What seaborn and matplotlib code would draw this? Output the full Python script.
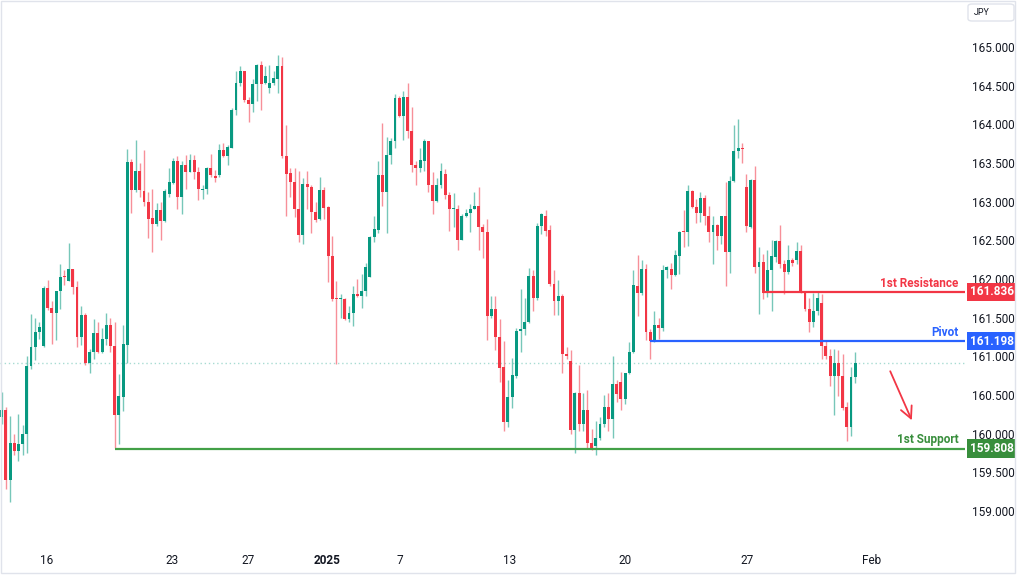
import numpy as np
import pandas as pd
import seaborn as sns
import matplotlib.pyplot as plt
from matplotlib.patches import Rectangle, FancyBboxPatch

# USD/JPY 4h candles
opens = [160.22, 160.31, 159.40, 159.88, 159.78, 159.87, 160.00, 160.88, 161.12, 161.31,
         161.14, 161.89, 161.63, 161.56, 161.84, 162.04, 161.98, 162.13, 161.90, 161.25,
         161.54, 160.92, 161.05, 161.30, 161.05, 161.23, 161.41, 161.13, 160.24, 160.47,
         161.15, 163.51, 163.15, 163.40, 163.14, 162.99, 162.79, 162.71, 162.89, 162.75,
         163.10, 163.24, 163.52, 163.06, 163.47, 163.38, 163.54, 163.38, 163.15, 163.17,
         163.44, 163.33, 163.34, 163.67, 163.59, 163.70, 164.18, 164.53, 164.69, 164.31,
         164.26, 164.52, 164.77, 164.53, 164.47, 164.54, 164.59, 164.75, 163.59, 163.37,
         163.26, 162.91, 162.57, 163.23, 163.19, 162.87, 162.77, 163.15, 162.93, 162.30,
         161.75, 161.74, 161.74, 161.48, 161.56, 161.81, 161.78, 161.85, 162.03, 162.54,
         162.64, 163.34, 163.13, 163.60, 163.79, 164.34, 164.11, 164.35, 163.92, 163.48,
         163.43, 163.53, 163.79, 163.21, 163.01, 163.22, 163.36, 163.08, 162.91, 162.91,
         162.50, 162.81, 162.86, 162.91, 162.94, 162.67, 162.61, 161.52, 161.61, 161.25,
         160.86, 160.15, 160.47, 160.75, 161.33, 161.35, 161.44, 162.04, 161.76, 162.68,
         162.82, 162.63, 161.93, 161.72, 161.78, 161.03, 160.94, 160.05, 160.53, 160.13,
         160.30, 159.88, 159.84, 159.94, 160.12, 160.35, 160.19, 160.64, 160.67, 160.45,
         160.78, 161.06, 161.91, 161.82, 162.13, 161.31, 161.20, 161.40, 161.36, 162.12,
         162.13, 162.05, 162.30, 162.62, 162.61, 163.14, 162.93, 162.86, 163.05, 162.81,
         162.61, 162.70, 162.55, 162.81, 162.35, 163.27, 163.65, 163.69, 163.19, 162.67,
         163.28, 162.15, 162.22, 161.82, 162.12, 162.29, 162.49, 162.20, 162.09, 162.25,
         162.24, 162.36, 161.83, 161.61, 161.45, 161.58, 161.69, 161.13, 161.00, 160.74,
         160.92, 160.74, 160.34, 160.08, 160.73]
highs = [160.54, 160.34, 160.23, 160.00, 160.25, 160.11, 161.00, 161.55, 161.50, 161.45,
         161.91, 161.99, 161.72, 161.85, 162.20, 162.12, 162.47, 162.13, 161.98, 161.65,
         161.56, 161.10, 161.48, 161.45, 161.36, 161.56, 161.50, 161.45, 160.77, 161.41,
         163.68, 163.55, 163.80, 163.50, 163.67, 163.13, 163.17, 162.98, 162.99, 163.17,
         163.43, 163.57, 163.59, 163.53, 163.60, 163.62, 163.60, 163.45, 163.22, 163.45,
         163.62, 163.41, 163.75, 163.76, 163.73, 164.21, 164.69, 164.75, 164.69, 164.35,
         164.59, 164.78, 164.82, 164.75, 164.77, 164.69, 164.90, 164.87, 163.99, 163.44,
         163.43, 163.40, 163.30, 163.40, 163.21, 163.00, 163.32, 163.19, 162.94, 162.55,
         161.98, 161.81, 161.75, 161.65, 161.91, 162.00, 162.07, 162.21, 162.56, 162.81,
         163.52, 164.02, 163.83, 163.82, 164.39, 164.37, 164.43, 164.54, 164.23, 163.52,
         163.69, 163.81, 163.79, 163.38, 163.30, 163.50, 163.42, 163.13, 163.11, 162.96,
         162.84, 162.91, 162.97, 163.12, 163.19, 162.71, 162.78, 161.78, 161.78, 161.48,
         161.20, 160.69, 160.98, 161.36, 161.87, 161.75, 162.14, 162.12, 162.73, 162.86,
         162.89, 162.70, 162.12, 161.99, 161.80, 161.12, 161.08, 160.54, 160.89, 160.52,
         160.56, 160.06, 160.16, 160.21, 160.50, 160.53, 161.00, 160.69, 160.80, 160.79,
         161.18, 162.12, 162.31, 162.25, 162.19, 161.35, 161.59, 161.50, 162.18, 162.17,
         162.21, 162.37, 162.62, 162.89, 163.22, 163.15, 163.03, 163.13, 163.09, 162.94,
         162.81, 162.71, 162.81, 163.26, 163.33, 163.99, 164.07, 163.76, 163.36, 163.29,
         163.46, 162.41, 162.32, 162.38, 162.51, 162.51, 162.70, 162.25, 162.44, 162.27,
         162.48, 162.44, 161.84, 161.75, 161.82, 161.85, 161.81, 161.21, 161.10, 161.09,
         161.08, 161.03, 160.41, 160.86, 161.05]
lows = [160.13, 159.29, 159.11, 159.72, 159.65, 159.72, 159.75, 160.83, 160.95, 161.23,
        161.12, 161.60, 161.16, 161.21, 161.61, 161.92, 161.98, 161.81, 161.12, 161.15,
        160.89, 160.78, 160.96, 161.04, 161.04, 161.15, 161.06, 159.81, 159.86, 160.29,
        160.92, 162.85, 163.13, 163.06, 162.94, 162.53, 162.35, 162.68, 162.50, 162.74,
        163.06, 163.23, 162.90, 162.84, 163.17, 163.38, 163.29, 163.02, 163.03, 163.10,
        163.32, 163.26, 163.32, 163.58, 163.48, 163.69, 164.12, 164.49, 164.29, 164.03,
        164.16, 164.30, 164.18, 164.52, 164.40, 164.51, 164.41, 163.56, 162.81, 163.06,
        162.80, 162.48, 162.45, 162.91, 162.60, 162.74, 162.76, 162.77, 161.96, 161.71,
        160.90, 161.49, 161.47, 161.45, 161.39, 161.77, 161.63, 161.78, 162.02, 162.48,
        162.59, 162.94, 162.59, 163.49, 163.70, 164.10, 163.80, 163.82, 163.39, 163.22,
        163.38, 163.40, 163.13, 162.84, 163.00, 163.18, 163.04, 162.62, 162.67, 162.37,
        162.50, 162.80, 162.61, 162.90, 162.37, 162.27, 161.21, 161.50, 161.08, 160.67,
        160.04, 160.08, 160.33, 160.72, 161.06, 161.28, 161.43, 161.58, 161.73, 162.58,
        162.56, 161.91, 161.53, 161.53, 160.79, 160.97, 160.00, 159.75, 160.04, 160.04,
        159.82, 159.79, 159.72, 159.92, 160.09, 160.03, 159.95, 160.41, 160.31, 160.39,
        160.77, 161.04, 161.52, 161.79, 161.21, 160.96, 161.19, 161.23, 161.33, 162.01,
        161.87, 162.04, 162.07, 162.42, 162.43, 162.92, 162.72, 162.74, 162.70, 162.48,
        162.19, 162.37, 162.45, 161.91, 162.08, 163.25, 163.57, 163.50, 162.61, 162.66,
        162.08, 161.55, 161.74, 161.77, 161.58, 162.22, 162.14, 161.81, 162.07, 162.17,
        162.20, 161.82, 161.59, 161.31, 161.38, 161.54, 160.97, 160.97, 160.62, 160.24,
        160.49, 160.31, 159.91, 159.97, 160.66]
closes = [160.31, 159.40, 159.88, 159.77, 159.86, 160.00, 160.88, 161.12, 161.31, 161.38,
          161.89, 161.63, 161.56, 161.84, 162.02, 162.02, 162.13, 161.90, 161.25, 161.54,
          160.91, 161.05, 161.30, 161.05, 161.23, 161.41, 161.13, 160.24, 160.49, 161.16,
          163.51, 163.15, 163.40, 163.15, 162.99, 162.78, 162.71, 162.89, 162.75, 163.14,
          163.26, 163.52, 163.06, 163.47, 163.38, 163.54, 163.38, 163.16, 163.17, 163.44,
          163.34, 163.30, 163.67, 163.59, 163.71, 164.19, 164.54, 164.69, 164.31, 164.26,
          164.52, 164.77, 164.52, 164.62, 164.54, 164.60, 164.75, 163.59, 163.36, 163.26,
          162.90, 162.57, 163.23, 163.19, 162.87, 162.76, 163.15, 162.92, 162.30, 161.74,
          161.74, 161.75, 161.48, 161.56, 161.81, 161.78, 161.85, 162.16, 162.54, 162.65,
          163.34, 163.13, 163.61, 163.79, 164.34, 164.11, 164.35, 163.92, 163.48, 163.44,
          163.54, 163.79, 163.21, 163.01, 163.22, 163.40, 163.08, 162.90, 162.92, 162.50,
          162.81, 162.85, 162.91, 162.94, 162.67, 162.61, 161.52, 161.61, 161.25, 160.85,
          160.15, 160.47, 160.76, 161.33, 161.35, 161.44, 162.04, 161.76, 162.69, 162.84,
          162.62, 161.93, 161.72, 161.78, 161.03, 161.00, 160.05, 160.53, 160.13, 160.30,
          159.88, 159.80, 159.94, 160.13, 160.35, 160.19, 160.64, 160.51, 160.45, 160.78,
          161.06, 161.92, 161.82, 162.13, 161.31, 161.20, 161.40, 161.36, 162.12, 162.15,
          162.05, 162.31, 162.61, 162.61, 163.14, 162.93, 162.86, 163.05, 162.81, 162.61,
          162.70, 162.55, 162.81, 162.35, 163.27, 163.65, 163.69, 163.68, 162.68, 163.28,
          162.15, 162.22, 161.82, 162.12, 162.30, 162.49, 162.20, 162.09, 162.25, 162.21,
          162.36, 161.83, 161.61, 161.45, 161.59, 161.76, 161.13, 161.00, 160.74, 160.92,
          160.74, 160.33, 160.08, 160.73, 160.92]

# date labels on the candle index axis
date_ticks = [10.8, 40.7, 58.9, 77.8, 95.2, 121.5, 149.0, 178.1, 208.0]
date_labels = ['16', '23', '27', '2025', '7', '13', '20', '27', 'Feb']
price_ticks = [159.0, 159.5, 160.0, 160.5, 161.0, 161.5, 162.0, 162.5, 163.0, 163.5, 164.0, 164.5, 165.0]

# support / resistance levels and the candle they start from
level_names = ['1st Resistance', 'Pivot', '1st Support']
level_values = [161.836, 161.198, 159.808]
level_start = [182, 155, 27]
level_colors = ['#f23645', '#2962ff', '#388e3c']

UP = '#089981'
DOWN = '#f23645'

sns.set_theme(style='white')
plt.rcParams['font.family'] = ['Roboto', 'DejaVu Sans']

df = pd.DataFrame({'open': opens, 'high': highs, 'low': lows, 'close': closes})
df['idx'] = np.arange(len(df))
colors = np.where(df['close'] >= df['open'], UP, DOWN)

fig = plt.figure(figsize=(10.2, 5.8), dpi=100)
ax = fig.add_axes([0, 38 / 580, 965 / 1020, 542 / 580])

# wicks then bodies
ax.vlines(df['idx'], df['low'], df['high'], colors=colors, lw=1, alpha=0.55, zorder=2)
body = (df['close'] - df['open']).abs().clip(lower=0.012)
ax.bar(df['idx'], body, bottom=df[['open', 'close']].min(axis=1), width=0.7,
       color=colors, linewidth=0, zorder=3)

xmax = 230.24
ax.set_xlim(-0.41, xmax)
ax.set_ylim(158.599, 165.608)

# last price dotted line
ax.axhline(closes[-1], color=UP, alpha=0.35, lw=1, ls=(0, (1, 2)), zorder=1)

for name, val, start, col in zip(level_names, level_values, level_start, level_colors):
    lc = '#43a047' if col == '#388e3c' else col
    ax.hlines(val, start, xmax, color=lc, lw=1.6, zorder=4)
    ax.annotate(name, xy=(228.6, val), xytext=(0, 1.5), textcoords='offset points',
                ha='right', va='bottom', color=col, fontsize=8.5, fontweight='semibold')
    ax.annotate(f'{val:.3f}', xy=(1, val), xycoords=ax.get_yaxis_transform(),
                xytext=(3.5, 0), textcoords='offset points', ha='left', va='center',
                color='white', fontsize=8.5, fontweight='semibold', annotation_clip=False,
                bbox=dict(boxstyle='square,pad=0.22', fc=col, ec='none'))

# expected move arrow
ax.annotate('', xy=(217.8, 160.14), xytext=(212.1, 160.84),
            arrowprops=dict(arrowstyle='->,head_length=0.7,head_width=0.35',
                            color='#f23645', lw=1.3))

ax.yaxis.tick_right()
ax.set_yticks(price_ticks, [f'{p:.3f}' for p in price_ticks])
ax.set_xticks(date_ticks, date_labels)
ax.tick_params(axis='y', length=0, pad=5, labelsize=8.5, colors='#131722')
ax.tick_params(axis='x', length=0, pad=9, labelsize=8.5, colors='#131722')
ax.get_xticklabels()[3].set_fontweight('bold')
for s in ax.spines.values():
    s.set_visible(False)
ax.grid(False)

# currency box, top right
fig.add_artist(FancyBboxPatch((968 / 1020, 1 - 21 / 580), 46 / 1020, 17 / 580,
                              boxstyle='round,pad=0,rounding_size=0.004',
                              transform=fig.transFigure, fc='white', ec='#e0e3eb', lw=1))
fig.text(974 / 1020, 1 - 12.5 / 580, 'JPY', ha='left', va='center', fontsize=6.5, color='#131722')
fig.add_artist(Rectangle((0.5 / 1020, 7 / 580), 1015 / 1020, 572.5 / 580,
                         transform=fig.transFigure, fill=False, ec='#e0e3eb', lw=1))

fig.savefig('out.png', dpi=100)
